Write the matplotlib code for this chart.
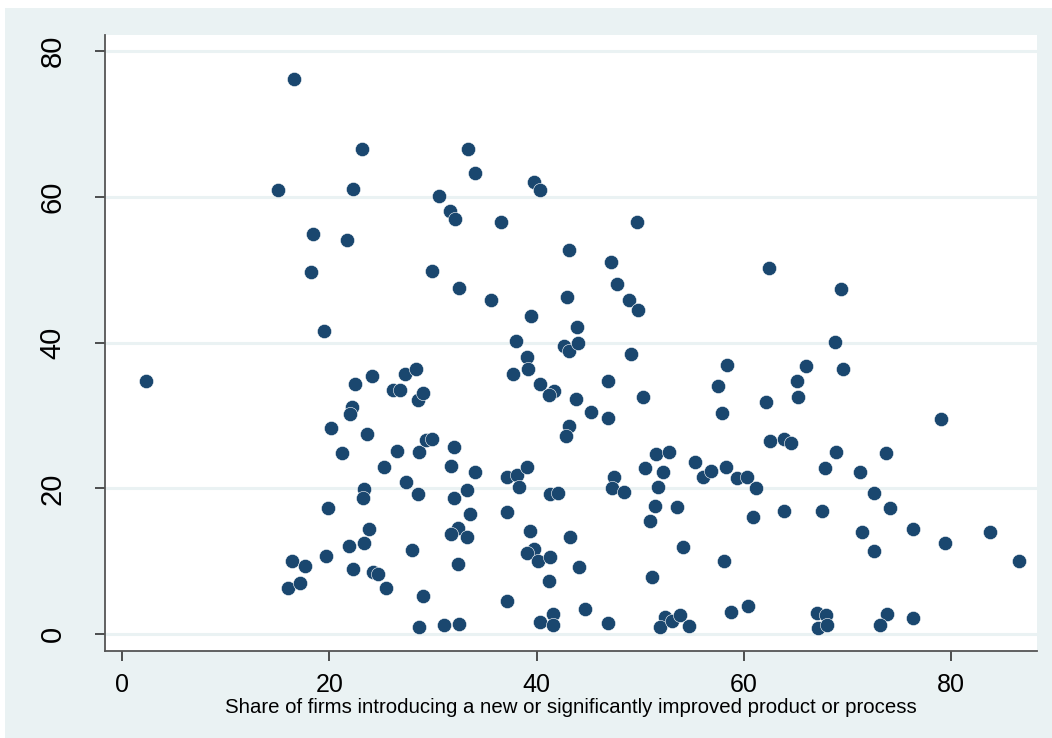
#!/usr/bin/env python3

import numpy as np
import matplotlib
matplotlib.use( 'Agg' )
import matplotlib.pyplot as plt
from matplotlib.patches import Rectangle

# share of firms introducing a new or significantly improved product or process (x)
innovShare = [
    2.3, 16.6, 15.0, 23.1, 22.3, 18.4, 21.7, 18.2, 19.5, 22.5, 24.1, 22.2, 22.0, 20.1, 23.6, 21.2,
    25.3, 26.1, 26.8, 27.3, 28.4, 28.5, 29.0, 26.5, 28.6, 29.3, 29.9, 27.4, 28.5, 23.3, 23.2, 19.9,
    23.8, 21.9, 23.3, 19.7, 16.4, 17.6, 16.0, 17.2, 22.3, 24.2, 24.7, 25.5, 28.0, 29.0, 28.6, 31.1,
    32.5,
    30.6, 31.6, 32.1, 29.9, 33.4, 34.0, 36.6, 39.7, 40.3, 32.5, 35.6, 39.5, 43.1, 42.9, 43.9, 47.2,
    47.8, 48.9, 49.8, 49.7, 38.0, 42.6, 43.1, 44.0, 39.1, 39.2, 37.7, 49.1, 40.3, 41.7, 41.2, 43.8,
    46.9, 50.3, 45.2, 46.9, 43.1, 42.8, 32.0, 31.7, 34.0, 32.0, 33.3, 33.6, 32.4, 31.7, 33.3, 32.4,
    37.1, 38.1, 39.1, 38.3, 41.3, 42.1, 37.1, 39.4, 39.7, 39.1, 40.1, 41.3, 43.2, 44.1, 41.2, 37.1,
    40.3, 41.6, 41.6, 44.7, 46.9, 47.5, 47.3, 48.4,
    50.5, 51.5, 52.8, 52.2, 51.7, 51.4, 53.5, 50.9, 55.3, 56.1, 56.8, 58.3, 59.3, 60.3, 61.2, 54.1,
    58.1, 51.1, 58.8, 60.4, 60.9, 52.4, 51.9, 53.1, 53.8, 54.7, 62.4, 69.4, 68.8, 69.6, 58.4, 66.0,
    57.5, 65.1, 65.2, 62.1, 57.9, 62.5, 63.9, 64.6, 68.9, 73.7, 79.0, 67.8, 71.2, 72.6, 74.1, 67.5,
    63.9, 71.4, 76.3, 83.8, 72.6, 79.4, 86.6, 67.1, 67.9, 67.2, 68.0, 73.8, 73.1, 76.3,
]

# second variable (y)
yValue = [
    34.8, 76.1, 60.9, 66.6, 61.1, 54.9, 54.1, 49.7, 41.6, 34.3, 35.4, 31.2, 30.2, 28.3, 27.5, 24.8,
    23.0, 33.5, 33.5, 35.7, 36.4, 32.1, 33.1, 25.1, 25.0, 26.6, 26.8, 20.9, 19.2, 19.9, 18.7, 17.3,
    14.5, 12.1, 12.5, 10.8, 10.0, 9.3, 6.3, 7.0, 8.9, 8.6, 8.2, 6.4, 11.6, 5.2, 1.0, 1.3,
    1.4,
    60.1, 58.0, 56.9, 49.8, 66.5, 63.3, 56.5, 62.1, 60.9, 47.5, 45.9, 43.6, 52.7, 46.3, 42.1, 51.0,
    48.0, 45.9, 44.5, 56.6, 40.2, 39.6, 38.8, 39.9, 38.0, 36.4, 35.7, 38.4, 34.3, 33.4, 32.8, 32.2,
    34.8, 32.6, 30.5, 29.7, 28.6, 27.2, 25.7, 23.1, 22.2, 18.7, 19.8, 16.5, 14.6, 13.8, 13.3, 9.7,
    21.6, 21.9, 22.9, 20.2, 19.2, 19.4, 16.7, 14.1, 11.7, 11.2, 10.1, 10.6, 13.4, 9.2, 7.3, 4.5,
    1.7, 2.8, 1.2, 3.4, 1.5, 21.5, 20.0, 19.5,
    22.8, 24.7, 25.0, 22.2, 20.2, 17.6, 17.4, 15.6, 23.6, 21.5, 22.4, 23.0, 21.4, 21.6, 20.0, 11.9,
    10.1, 7.9, 3.0, 3.9, 16.1, 2.3, 1.0, 1.8, 2.7, 1.1, 50.3, 47.4, 40.1, 36.4, 37.0, 36.8,
    34.1, 34.8, 32.6, 31.8, 30.4, 26.5, 26.8, 26.2, 25.0, 24.8, 29.5, 22.8, 22.3, 19.4, 17.3, 16.9,
    16.9, 14.0, 14.4, 14.0, 11.4, 12.5, 10.1, 2.9, 2.6, 0.9, 1.2, 2.8, 1.3, 2.2,
]

xTicks = [ 0, 20, 40, 60, 80 ]
yTicks = [ 0, 20, 40, 60, 80 ]
xLabel = 'Share of firms introducing a new or significantly improved product or process'

bgColor = '#EAF2F3'
markerColor = '#1A476F'

plt.rcParams['font.family'] = [ 'Liberation Sans', 'DejaVu Sans' ]

W, H = 1052, 738
fig = plt.figure( figsize = ( W / 100, H / 100 ), dpi = 100, facecolor = 'white' )
fig.patches.append( Rectangle( ( 5 / W, 0 ), 1 - 5 / W, 1 - 8 / H, transform = fig.transFigure,
                               facecolor = bgColor, edgecolor = 'none', zorder = -10 ) )

left, right, top, bottom = 105, 1037, 35, 651
ax = fig.add_axes( [ left / W, 1 - bottom / H, ( right - left ) / W, ( bottom - top ) / H ] )
ax.set_facecolor( 'white' )

ax.scatter( innovShare, yValue, s = 105, color = markerColor, edgecolors = 'white',
            linewidths = 0.4, zorder = 3 )

ax.set_xlim( -1.67, 88.3 )
ax.set_ylim( -2.3, 82.2 )
ax.set_xticks( xTicks )
ax.set_yticks( yTicks )
ax.yaxis.grid( True, color = bgColor, linewidth = 2.2, zorder = 1 )
ax.set_axisbelow( True )

for side in [ 'top', 'right' ]:
    ax.spines[side].set_visible( False )
for side in [ 'left', 'bottom' ]:
    ax.spines[side].set_color( '#555555' )
    ax.spines[side].set_linewidth( 1.3 )

ax.tick_params( axis = 'x', direction = 'out', length = 7.5, width = 1.1, color = '#222222',
                labelsize = 18, pad = 8 )
ax.tick_params( axis = 'y', direction = 'out', length = 7.5, width = 1.1, color = '#222222',
                labelsize = 21, pad = 20 )
for lab in ax.get_yticklabels():
    lab.set_rotation( 90 )
    lab.set_va( 'center' )

ax.set_xlabel( xLabel, fontsize = 14.7, labelpad = 1 )

fig.savefig( 'out.png', dpi = 100, facecolor = fig.get_facecolor() )
